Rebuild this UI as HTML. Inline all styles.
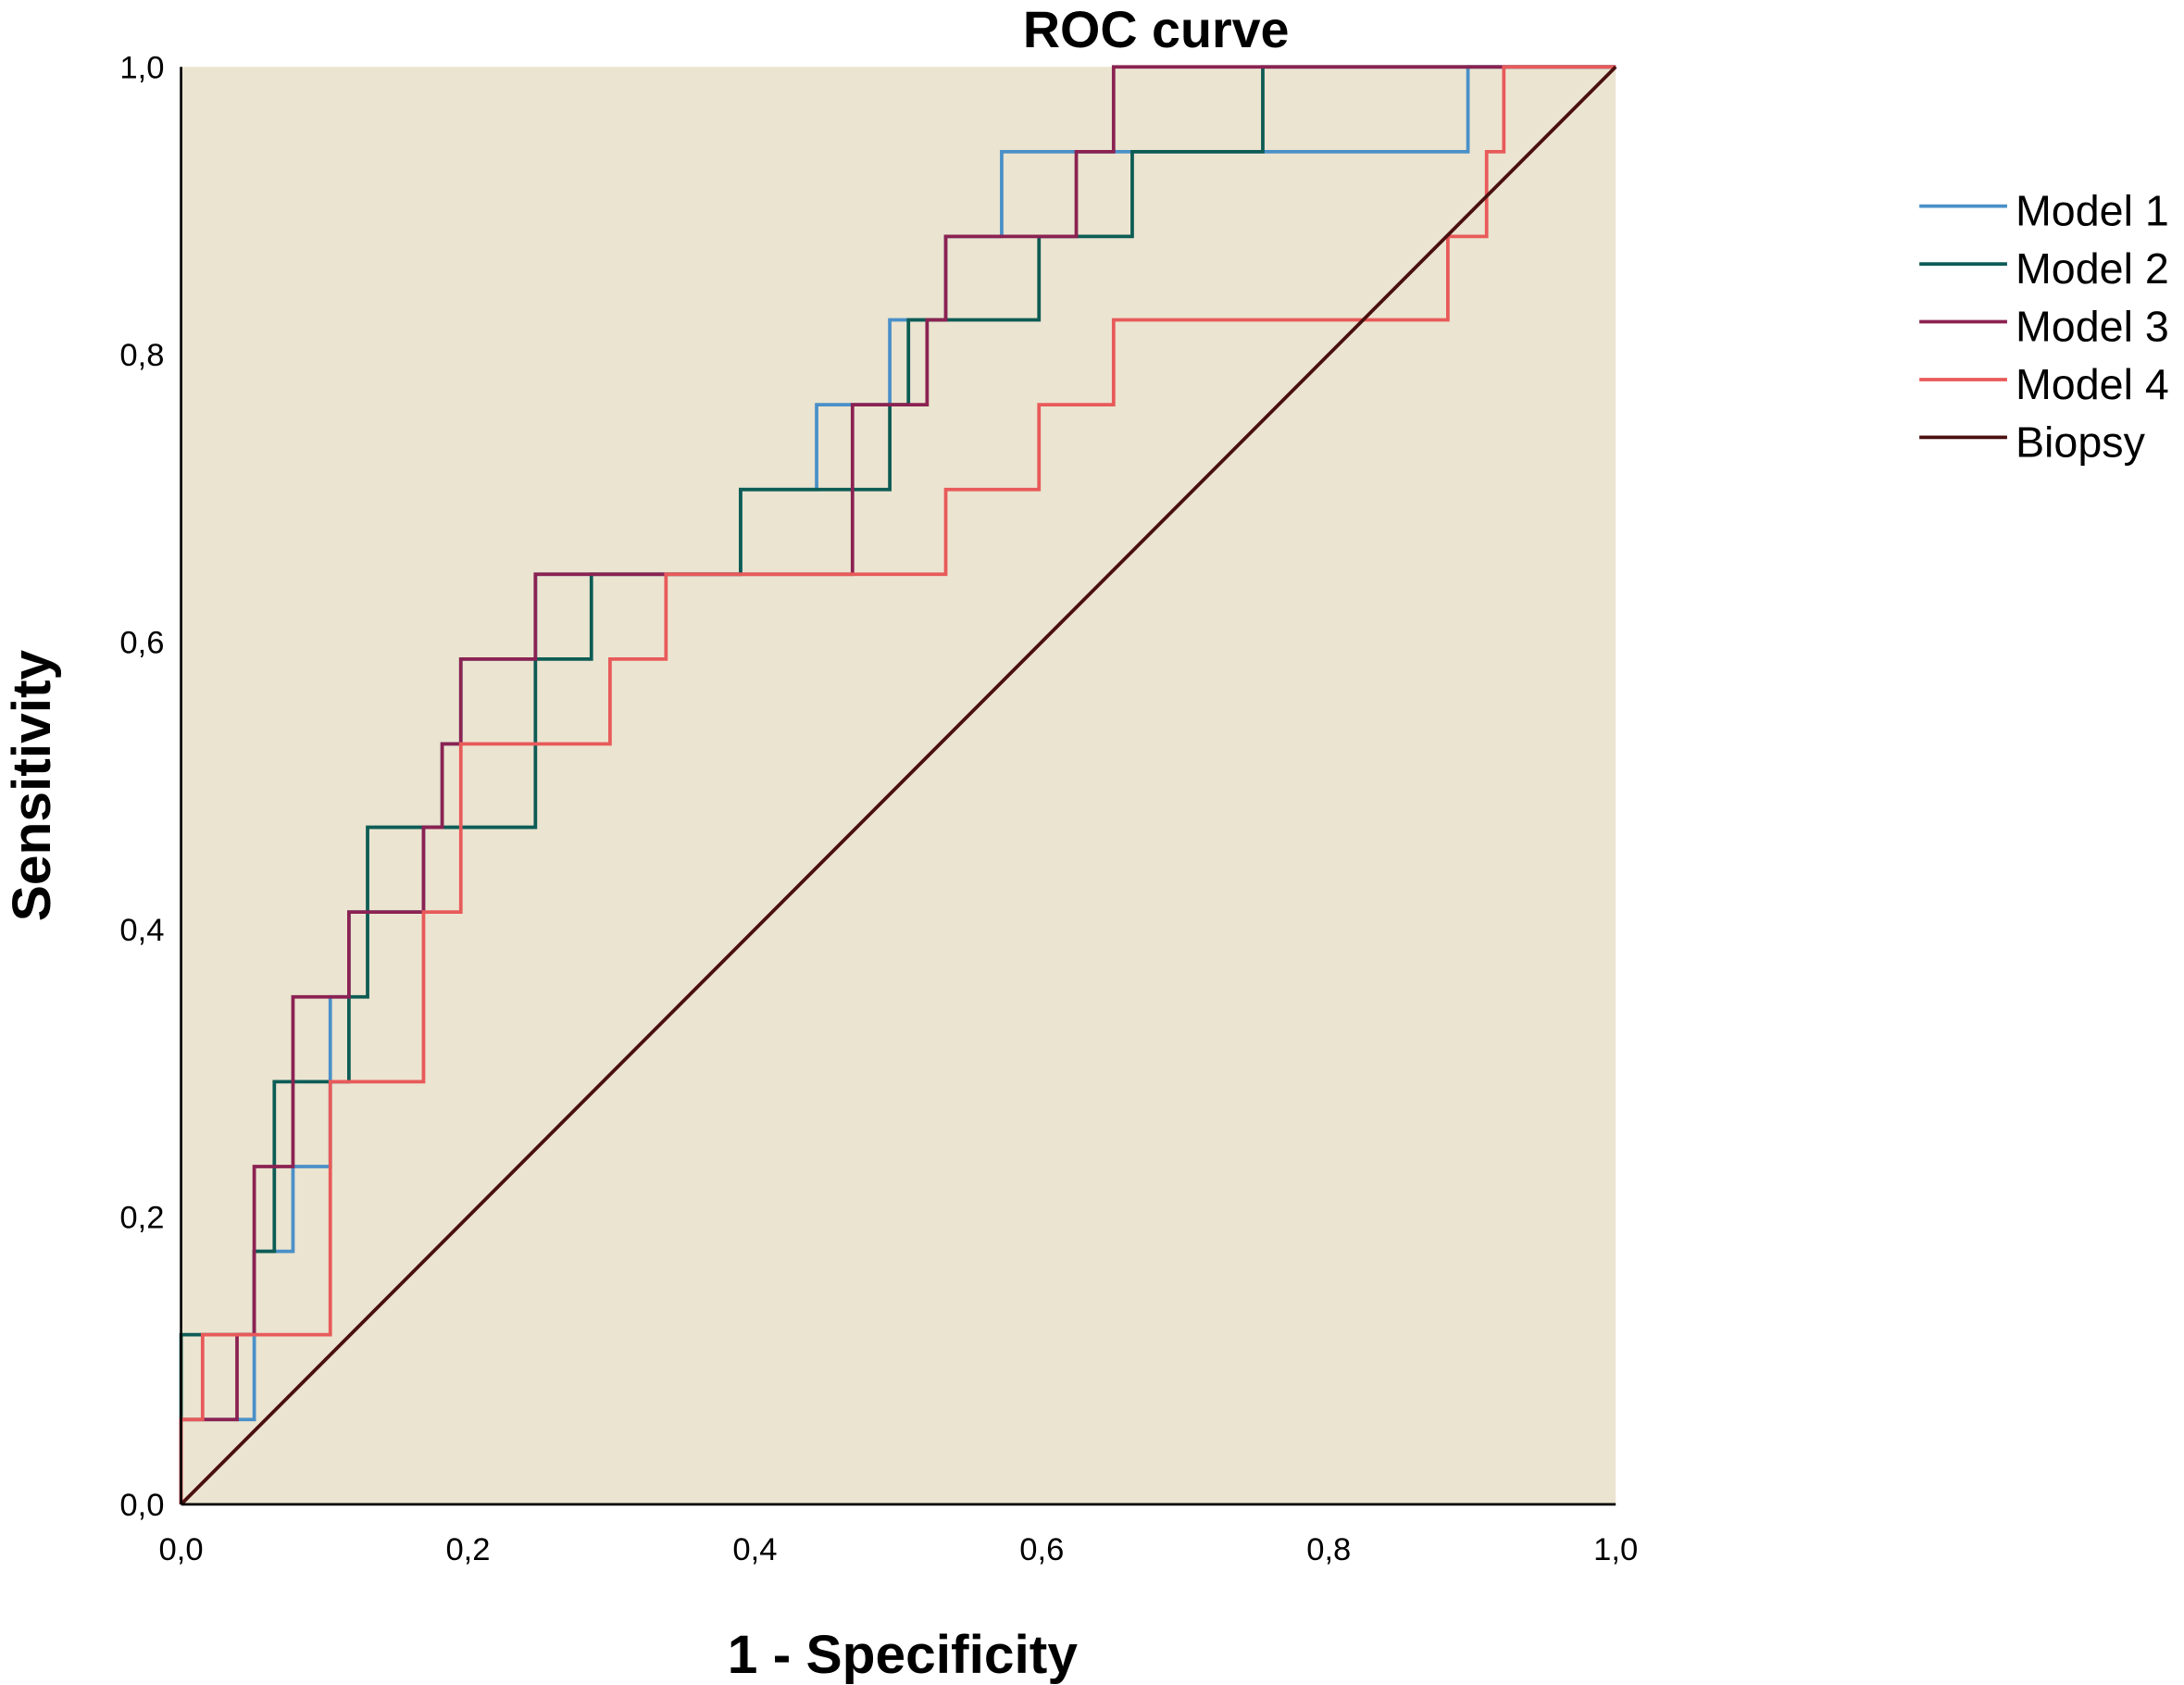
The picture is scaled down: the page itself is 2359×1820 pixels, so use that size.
<!DOCTYPE html>
<html><head><meta charset="utf-8"><style>
html,body{margin:0;padding:0;background:#fff;}
svg{display:block;font-family:"Liberation Sans",Arial,sans-serif;}
</style></head><body>
<svg id="chart" width="2359" height="1820" viewBox="0 0 1568 1209.7" preserveAspectRatio="none" xmlns="http://www.w3.org/2000/svg">
<rect x="130" y="48" width="1030" height="1032" fill="#ebe4d0"/>
<g id="series"></g>
<line x1="130" y1="48" x2="130" y2="1080" stroke="#000" stroke-width="1.8"/>
<line x1="130" y1="1080" x2="1160" y2="1080" stroke="#000" stroke-width="1.8"/>
<g id="ticks" font-size="23" fill="#000"></g>
<text x="830" y="34" font-size="37" font-weight="bold" text-anchor="middle">ROC curve</text>
<text x="648" y="1201" font-size="39" font-weight="bold" text-anchor="middle">1 - Specificity</text>
<text transform="translate(36,564) rotate(-90)" font-size="39" font-weight="bold" text-anchor="middle">Sensitivity</text>
<g id="legend" font-size="31" fill="#000"></g>
</svg>
<script>
const seriesNames = ["Model 1","Model 2","Model 3","Model 4"];
const seriesColors = ["#4a90c8","#0d5c55","#8b2252","#e85a5a"];
const m1Fpr = [0,0.051,0.078,0.104,0.117,0.169,0.182,0.195,0.247,0.390,0.443,0.494,0.533,0.572,0.897,1];
const m1Tpr = [0.059,0.176,0.235,0.353,0.412,0.471,0.529,0.588,0.647,0.706,0.765,0.824,0.882,0.941,1,1];
const m2Fpr = [0,0.051,0.065,0.117,0.130,0.247,0.286,0.390,0.494,0.507,0.598,0.663,0.754,1];
const m2Tpr = [0.118,0.176,0.294,0.353,0.471,0.588,0.647,0.706,0.765,0.824,0.882,0.941,1,1];
const m3Fpr = [0,0.039,0.051,0.078,0.117,0.169,0.182,0.195,0.247,0.468,0.520,0.533,0.624,0.650,1];
const m3Tpr = [0.059,0.118,0.235,0.353,0.412,0.471,0.529,0.588,0.647,0.765,0.824,0.882,0.941,1,1];
const m4Fpr = [0,0.015,0.104,0.169,0.195,0.299,0.338,0.533,0.598,0.650,0.883,0.910,0.922,1];
const m4Tpr = [0.059,0.118,0.294,0.412,0.529,0.588,0.647,0.706,0.765,0.824,0.882,0.941,1,1];
const refFpr = [0,1];
const refTpr = [0,1];
const tickValues = [0,0.2,0.4,0.6,0.8,1.0];
const tickLabels = ["0,0","0,2","0,4","0,6","0,8","1,0"];

const NS="http://www.w3.org/2000/svg";
const X0=130,X1=1160,Y0=1080,Y1=48;
function sx(v){return X0+(X1-X0)*v;}
function sy(v){return Y0-(Y0-Y1)*v;}
const sg=document.getElementById('series');
const allF=[m1Fpr,m2Fpr,m3Fpr,m4Fpr], allT=[m1Tpr,m2Tpr,m3Tpr,m4Tpr];
for(let s=0;s<4;s++){
  let d="M"+sx(0)+","+sy(0);
  const f=allF[s],t=allT[s];
  for(let i=0;i<f.length;i++){d+=" H"+sx(f[i])+" V"+sy(t[i]);}
  const p=document.createElementNS(NS,'path');
  p.setAttribute('d',d);p.setAttribute('fill','none');
  p.setAttribute('stroke',seriesColors[s]);p.setAttribute('stroke-width','2.5');
  
  
  sg.appendChild(p);
}
const ref=document.createElementNS(NS,'line');
ref.setAttribute('x1',sx(refFpr[0]));ref.setAttribute('y1',sy(refTpr[0]));
ref.setAttribute('x2',sx(refFpr[1]));ref.setAttribute('y2',sy(refTpr[1]));
ref.setAttribute('stroke','#4a0f0f');ref.setAttribute('stroke-width','2.5');


sg.appendChild(ref);

const tg=document.getElementById('ticks');
tickValues.forEach((v,i)=>{
  const ty=document.createElementNS(NS,'text');
  ty.setAttribute('x',118);ty.setAttribute('y',sy(v)+8);ty.setAttribute('text-anchor','end');
  ty.textContent=tickLabels[i];
  
  
  tg.appendChild(ty);
  const tx=document.createElementNS(NS,'text');
  tx.setAttribute('x',sx(v));tx.setAttribute('y',1120);tx.setAttribute('text-anchor','middle');
  tx.textContent=tickLabels[i];
  
  
  tg.appendChild(tx);
});

const lg=document.getElementById('legend');
const legNames=seriesNames.concat(["Biopsy"]);
const legColors=seriesColors.concat(["#4a0f0f"]);
legNames.forEach((n,i)=>{
  const y=152+i*41.5;
  const l=document.createElementNS(NS,'line');
  l.setAttribute('x1',1378);l.setAttribute('x2',1441);l.setAttribute('y1',y-4);l.setAttribute('y2',y-4);
  l.setAttribute('stroke',legColors[i]);l.setAttribute('stroke-width','2.5');
  
  
  lg.appendChild(l);
  const t=document.createElementNS(NS,'text');
  t.setAttribute('x',1447);t.setAttribute('y',y+10);t.textContent=n;
  
  
  lg.appendChild(t);
});
</script>
</body></html>
